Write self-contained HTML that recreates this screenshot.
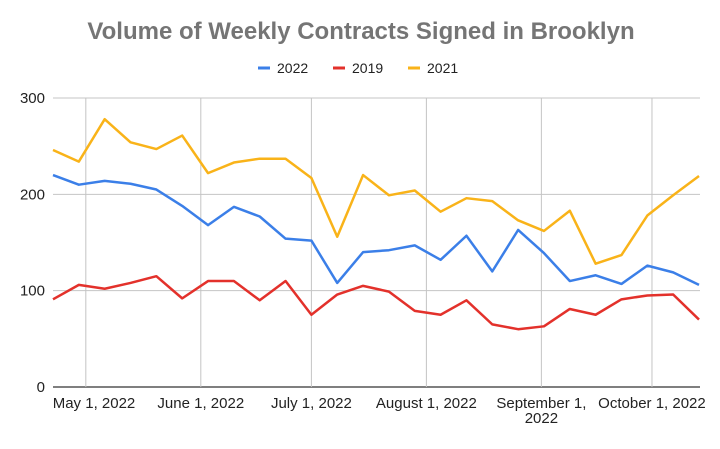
<!DOCTYPE html>
<html><head><meta charset="utf-8"><style>
body{margin:0;background:#fff;font-family:"Liberation Sans",Arial,sans-serif}
</style></head><body>
<svg width="720" height="444" viewBox="0 0 720 444">
<text x="361" y="39" text-anchor="middle" font-size="24" font-weight="bold" fill="#757575">Volume of Weekly Contracts Signed in Brooklyn</text>
<g id="legend" font-size="14" fill="#222"></g>
<g id="grid"></g><g id="series"></g><g id="axes" font-size="15" fill="#222"></g>
</svg>
<script>
const yTicks=[0,100,200,300];
const xLabels=[["May 1, 2022"],["June 1, 2022"],["July 1, 2022"],["August 1, 2022"],["September 1,","2022"],["October 1, 2022"]];
const xLabelIdx=[1.27,5.72,10.0,14.45,18.9,23.18];
const seriesNames=["2022","2019","2021"];
const s2022=[220,210,214,211,205,188,168,187,177,154,152,108,140,142,147,132,157,120,163,139,110,116,107,126,119,106];
const s2019=[91,106,102,108,115,92,110,110,90,110,75,96,105,99,79,75,90,65,60,63,81,75,91,95,96,70];
const s2021=[246,234,278,254,247,261,222,233,237,237,217,156,220,199,204,182,196,193,173,162,183,128,137,178,199,219];
const colors=["#3b7fe8","#e3312b","#f9b319"];
const NS="http://www.w3.org/2000/svg";
const x0=53,x1=699,y0=387,y1=98;
const n=s2022.length;
const X=i=>x0+(x1-x0)*i/(n-1);
const Y=v=>y0-(y0-y1)*v/300;
function mk(t,a,p){const e=document.createElementNS(NS,t);for(const k in a)e.setAttribute(k,a[k]);p.appendChild(e);return e;}
const grid=document.getElementById('grid'),axes=document.getElementById('axes'),ser=document.getElementById('series'),leg=document.getElementById('legend');
yTicks.forEach(v=>{
 const l=mk('line',{x1:53,x2:700,y1:Y(v),y2:Y(v),stroke:v===0?'#333':'#c4c4c4','stroke-width':v===0?1.3:1},grid);
 
 
 const t=mk('text',{x:45,y:Y(v)+5,'text-anchor':'end'},axes);t.textContent=v;
 
 
});
xLabelIdx.forEach((idx,i)=>{
 const x=X(idx);
 const l=mk('line',{x1:x,x2:x,y1:y1,y2:y0,stroke:'#c4c4c4'},grid);
 
 
 xLabels[i].forEach((s,j)=>{
  let tx=x; if(i===0)tx=Math.max(x,94); if(i===xLabels.length-1)tx=Math.min(x,659);
  const t=mk('text',{x:tx,y:408+j*15,'text-anchor':'middle'},axes);t.textContent=s;
  
  
 });
});
[s2022,s2019,s2021].forEach((d,k)=>{
 const p=mk('polyline',{points:d.map((v,i)=>X(i)+','+Y(v)).join(' '),fill:'none',stroke:colors[k],'stroke-width':2.5,'stroke-linejoin':'round'},ser);
 
 
});
const lx=[258,333,408];
seriesNames.forEach((s,k)=>{
 const g=mk('g',{},leg);
 
 
 mk('line',{x1:lx[k],x2:lx[k]+12,y1:68,y2:68,stroke:colors[k],'stroke-width':3},g);
 const t=mk('text',{x:lx[k]+19,y:73},g);t.textContent=s;
});
</script>
</body></html>
